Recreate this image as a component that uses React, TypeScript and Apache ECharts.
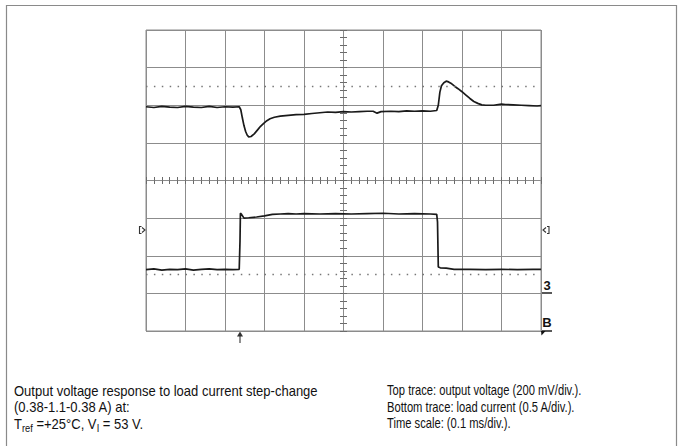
import React, { useEffect, useRef } from "react";
import * as echarts from "echarts";

// Screen: 10 horizontal divisions of 0.1 ms, 8 vertical divisions
const timeRangeMs = [0, 1.0];
const timePerDivMs = 0.1;
const divRange = [0, 8];

// Top trace: output voltage, [time ms, screen divisions]
const topTrace: [number, number][] = [
  [0.0, 5.96], [0.02, 5.94], [0.04, 5.97], [0.06, 5.95], [0.08, 5.94], [0.1, 5.97],
  [0.12, 5.95], [0.14, 5.94], [0.16, 5.97], [0.18, 5.94], [0.2, 5.96], [0.22, 5.95],
  [0.236, 5.96], [0.24, 5.88], [0.244, 5.66], [0.248, 5.46], [0.252, 5.31], [0.256, 5.21],
  [0.26, 5.16], [0.266, 5.17], [0.274, 5.24], [0.282, 5.34], [0.29, 5.44], [0.298, 5.52],
  [0.306, 5.59], [0.314, 5.64], [0.325, 5.68], [0.34, 5.71], [0.36, 5.73], [0.38, 5.75],
  [0.4, 5.76], [0.42, 5.78], [0.44, 5.8], [0.46, 5.82], [0.48, 5.81], [0.5, 5.83],
  [0.52, 5.82], [0.54, 5.83], [0.56, 5.84], [0.575, 5.84], [0.585, 5.79], [0.595, 5.83],
  [0.62, 5.84], [0.64, 5.83], [0.66, 5.85], [0.68, 5.84], [0.7, 5.85], [0.72, 5.84],
  [0.736, 5.86], [0.74, 6.0], [0.744, 6.35], [0.748, 6.52], [0.754, 6.6], [0.76, 6.64],
  [0.766, 6.62], [0.774, 6.57], [0.782, 6.5], [0.79, 6.44], [0.8, 6.36], [0.81, 6.27],
  [0.82, 6.18], [0.83, 6.1], [0.84, 6.05], [0.85, 6.01], [0.86, 6.0], [0.88, 6.0],
  [0.9, 6.03], [0.91, 6.02], [0.93, 6.01], [0.95, 6.0], [0.97, 5.99], [0.99, 5.98], [1.0, 5.99],
];

// Bottom trace: load current, [time ms, screen divisions]
const bottomTrace: [number, number][] = [
  [0.0, 1.63], [0.02, 1.65], [0.04, 1.62], [0.06, 1.64], [0.08, 1.63], [0.1, 1.65],
  [0.12, 1.62], [0.14, 1.64], [0.16, 1.65], [0.18, 1.63], [0.2, 1.64], [0.22, 1.63],
  [0.236, 1.64], [0.238, 2.4], [0.239, 3.13], [0.242, 3.1], [0.248, 3.0], [0.26, 3.01],
  [0.28, 3.03], [0.3, 3.06], [0.32, 3.1], [0.34, 3.11], [0.36, 3.12], [0.38, 3.11],
  [0.4, 3.12], [0.44, 3.11], [0.48, 3.12], [0.52, 3.11], [0.56, 3.12], [0.6, 3.13],
  [0.64, 3.11], [0.68, 3.12], [0.72, 3.11], [0.736, 3.1], [0.738, 2.9], [0.74, 1.7],
  [0.745, 1.68], [0.76, 1.67], [0.78, 1.64], [0.82, 1.64], [0.86, 1.63], [0.9, 1.64],
  [0.94, 1.63], [0.98, 1.64], [1.0, 1.64],
];

// Dotted reference levels (screen divisions)
const referenceLevels = [6.5, 1.5];

const captionLeft = [
  "Output voltage response to load current step-change",
  "(0.38-1.1-0.38 A) at:",
  "T{sub|ref} =+25°C, V{sub|I} = 53 V.",
];
const captionRight = [
  "Top trace: output voltage (200 mV/div.).",
  "Bottom trace: load current (0.5 A/div.).",
  "Time scale: (0.1 ms/div.).",
];

const GRID_LEFT = 146;
const GRID_TOP = 30;
const GRID_W = 395;
const GRID_H = 301;
const GRID_COLOR = "#8c8c8c";
const TICK_COLOR = "#6a6a6a";
const TRACE_COLOR = "#1a1a1a";
const FONT = '"Liberation Sans", Arial, sans-serif';

export default function App() {
  const ref = useRef<HTMLDivElement>(null);

  useEffect(() => {
    if (!ref.current) return;
    const chart = echarts.init(ref.current, undefined, { renderer: "svg" });

    const baseX = {
      type: "value" as const,
      gridIndex: 0,
      min: timeRangeMs[0],
      max: timeRangeMs[1],
      interval: timePerDivMs,
      axisLabel: { show: false },
    };
    const baseY = {
      type: "value" as const,
      gridIndex: 0,
      min: divRange[0],
      max: divRange[1],
      interval: 1,
      axisLabel: { show: false },
    };
    const centerTick = (inside: boolean) => ({
      axisLine: { show: false, onZero: false },
      axisTick: { show: true, inside, length: 3.5, lineStyle: { color: TICK_COLOR, width: 1 } },
      minorTick: { show: true, splitNumber: 5, length: 3.5, lineStyle: { color: TICK_COLOR, width: 1 } },
      splitLine: { show: false },
    });

    const rich = {
      sub: { fontSize: 10, fontFamily: FONT, fill: "#111", padding: [9, 0, 0, 0] },
    };

    const captionEls: any[] = [];
    captionLeft.forEach((t, i) => {
      captionEls.push({
        type: "text",
        x: 14,
        y: 391 + i * 16.5,
        scaleX: 0.93,
        silent: true,
        style: { text: t, fontSize: 14, fontFamily: FONT, fill: "#111", align: "left", verticalAlign: "middle", rich },
      });
    });
    captionRight.forEach((t, i) => {
      captionEls.push({
        type: "text",
        x: 387,
        y: 391 + i * 16.5,
        scaleX: 0.8,
        silent: true,
        style: { text: t, fontSize: 14, fontFamily: FONT, fill: "#111", align: "left", verticalAlign: "middle" },
      });
    });

    const gl = GRID_LEFT;
    const gr = GRID_LEFT + GRID_W;
    const gb = GRID_TOP + GRID_H;
    const markY = 230;
    const markerStroke = { stroke: "#333", lineWidth: 1.1, fill: "none" };

    const option: any = {
      animation: false,
      backgroundColor: "#ffffff",
      grid: [
        {
          left: GRID_LEFT,
          top: GRID_TOP,
          width: GRID_W,
          height: GRID_H,
          show: true,
          borderColor: GRID_COLOR,
          borderWidth: 1,
          backgroundColor: "transparent",
        },
      ],
      xAxis: [
        {
          ...baseX,
          axisLine: { show: false },
          axisTick: { show: false },
          splitLine: { show: true, lineStyle: { color: GRID_COLOR, width: 1 } },
        },
        { ...baseX, position: "bottom", offset: -GRID_H / 2, ...centerTick(false) },
        { ...baseX, position: "bottom", offset: -GRID_H / 2, ...centerTick(true) },
      ],
      yAxis: [
        {
          ...baseY,
          axisLine: { show: false },
          axisTick: { show: false },
          splitLine: { show: true, lineStyle: { color: GRID_COLOR, width: 1 } },
        },
        { ...baseY, position: "left", offset: -GRID_W / 2, ...centerTick(false) },
        { ...baseY, position: "left", offset: -GRID_W / 2, ...centerTick(true) },
      ],
      series: [
        {
          name: "Output voltage",
          type: "line",
          xAxisIndex: 0,
          yAxisIndex: 0,
          data: topTrace,
          showSymbol: false,
          symbol: "none",
          lineStyle: { color: TRACE_COLOR, width: 1.7 },
          silent: true,
          markLine: {
            silent: true,
            symbol: ["none", "none"],
            label: { show: false },
            lineStyle: { type: [1.5, 6.4], color: "#777", width: 1.4 },
            data: referenceLevels.map((v) => ({ yAxis: v })),
          },
        },
        {
          name: "Load current",
          type: "line",
          xAxisIndex: 0,
          yAxisIndex: 0,
          data: bottomTrace,
          showSymbol: false,
          symbol: "none",
          lineStyle: { color: TRACE_COLOR, width: 1.7 },
          silent: true,
        },
      ],
      graphic: [
        {
          type: "rect",
          silent: true,
          shape: { x: 6.5, y: 5.5, width: 670, height: 480 },
          style: { fill: "none", stroke: "#8a8a8a", lineWidth: 1.2 },
        },
        // left trigger-level marker "[>"
        {
          type: "polyline",
          silent: true,
          shape: { points: [[gl - 4.5, markY - 3.5], [gl - 6.5, markY - 3.5], [gl - 6.5, markY + 3.5], [gl - 4.5, markY + 3.5]] },
          style: markerStroke,
        },
        {
          type: "polyline",
          silent: true,
          shape: { points: [[gl - 4, markY - 2.5], [gl - 1, markY], [gl - 4, markY + 2.5]] },
          style: markerStroke,
        },
        // right marker "<]"
        {
          type: "polyline",
          silent: true,
          shape: { points: [[gr + 5, markY - 2.5], [gr + 2, markY], [gr + 5, markY + 2.5]] },
          style: markerStroke,
        },
        {
          type: "polyline",
          silent: true,
          shape: { points: [[gr + 6, markY - 3.5], [gr + 8, markY - 3.5], [gr + 8, markY + 3.5], [gr + 6, markY + 3.5]] },
          style: markerStroke,
        },
        // channel "3" ground marker
        {
          type: "text",
          silent: true,
          x: gr + 6,
          y: gb - 46,
          style: { text: "3", fontSize: 13, fontWeight: "bold", fontFamily: FONT, fill: "#111", align: "center", verticalAlign: "middle" },
        },
        {
          type: "line",
          silent: true,
          shape: { x1: gr, y1: gb - 38, x2: gr + 11, y2: gb - 38 },
          style: { stroke: "#111", lineWidth: 1.4 },
        },
        // "B" marker
        {
          type: "text",
          silent: true,
          x: gr + 6,
          y: gb - 8.5,
          style: { text: "B", fontSize: 13, fontWeight: "bold", fontFamily: FONT, fill: "#111", align: "center", verticalAlign: "middle" },
        },
        {
          type: "line",
          silent: true,
          shape: { x1: gr, y1: gb, x2: gr + 11, y2: gb },
          style: { stroke: "#111", lineWidth: 1.4 },
        },
        {
          type: "polygon",
          silent: true,
          shape: { points: [[gr, gb], [gr + 4.5, gb], [gr + 0.5, gb + 4.5]] },
          style: { fill: "#111" },
        },
        // trigger arrow
        {
          type: "polygon",
          silent: true,
          shape: { points: [[240, gb + 0.5], [237, gb + 5.5], [243, gb + 5.5]] },
          style: { fill: "#333" },
        },
        {
          type: "line",
          silent: true,
          shape: { x1: 240, y1: gb + 4, x2: 240, y2: gb + 12 },
          style: { stroke: "#333", lineWidth: 1.1 },
        },
        ...captionEls,
      ],
    };

    chart.setOption(option);
    return () => chart.dispose();
  }, []);

  return (
    <div
      ref={ref}
      style={{ position: "absolute", left: 0, top: 0, width: 685, height: 446, background: "#fff" }}
    />
  );
}
